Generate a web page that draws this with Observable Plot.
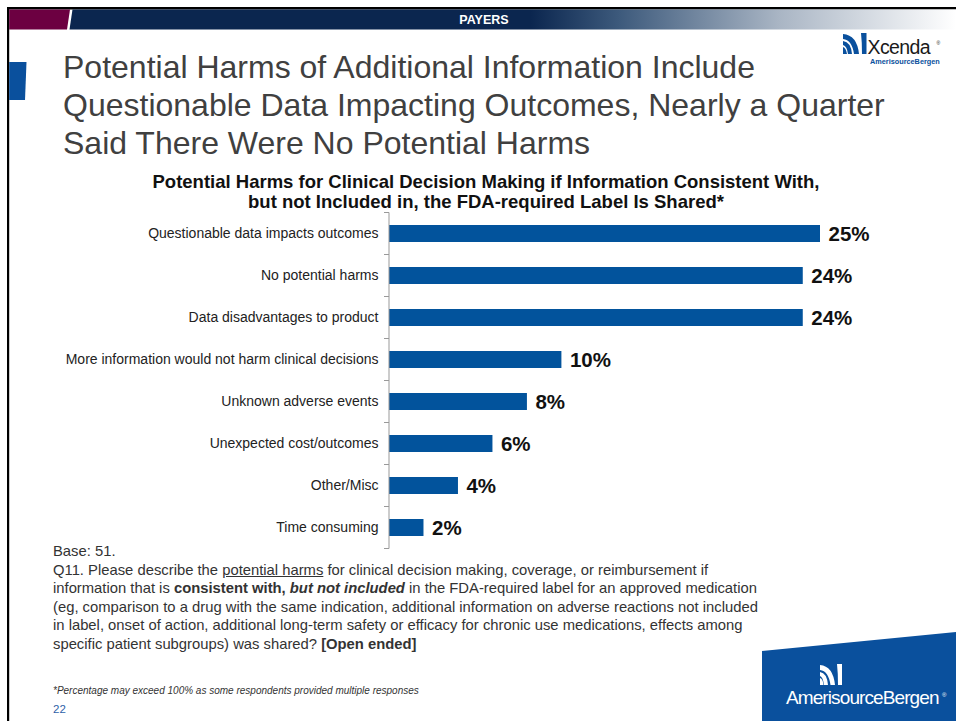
<!DOCTYPE html>
<html>
<head>
<meta charset="utf-8">
<script src="https://cdn.jsdelivr.net/npm/d3@7"></script>
<script src="https://cdn.jsdelivr.net/npm/@observablehq/plot@0.6"></script>
<style>
  html, body { margin: 0; padding: 0; background: #fff; }
  #page { position: relative; width: 956px; height: 721px; overflow: hidden; font-family: "Liberation Sans", Arial, sans-serif; }
  .abs { position: absolute; }
  #title { left: 63px; top: 48px; font-size: 32px; line-height: 38px; color: #404040; white-space: nowrap; }
  #ctitle { left: 100px; width: 772px; top: 172px; text-align: center; font-size: 18.5px; line-height: 20px; font-weight: bold; color: #111; white-space: nowrap; }
  #note { left: 53px; top: 542px; font-family: "Liberation Sans Narrow", "Arial Narrow", "Liberation Sans", sans-serif; font-size: 14.8px; line-height: 18.6px; color: #333; white-space: nowrap; }
  #foot { left: 53px; top: 685px; font-size: 10px; font-style: italic; color: #333; font-family: "Liberation Sans Narrow", "Arial Narrow", "Liberation Sans", sans-serif; }
  #pnum { left: 53px; top: 703px; font-size: 11.5px; color: #2f62a8; }
  #chart { left: 0; top: 199px; }
</style>
</head>
<body>
<div id="page">
  <svg class="abs" style="left:0;top:0" width="956" height="721">
    <defs>
      <linearGradient id="hg" x1="0" x2="1" y1="0" y2="0">
        <stop offset="0" stop-color="#0b264f"/>
        <stop offset="0.52" stop-color="#0b264f"/>
        <stop offset="0.62" stop-color="#3d5a7c"/>
        <stop offset="0.8" stop-color="#a9b5c4"/>
        <stop offset="1" stop-color="#ffffff"/>
      </linearGradient>
    </defs>
    <!-- border -->
    <rect x="7" y="7" width="949" height="2.5" fill="#000"/>
    <rect x="7" y="7" width="2.2" height="714" fill="#000"/>
    <!-- header bar -->
    <polygon points="9.2,9.5 70,9.5 67,29.5 9.2,29.5" fill="#6c0041"/>
    <polygon points="72.5,9.5 956,9.5 956,29.5 69.5,29.5" fill="url(#hg)"/>
    <text x="484" y="23.5" text-anchor="middle" font-size="12.5" font-weight="bold" fill="#fff">PAYERS</text>
    <!-- left accent -->
    <polygon points="9.2,62 26.5,62 25,100 9.2,100" fill="#0a509d"/>
    <!-- Xcenda logo -->
    <g fill="#0a509d">
      <path d="M843,34 q14,1 16,20 h-5 q-2,-14 -11,-15z"/>
      <path d="M843,41 q8,1 9,13 h-4 q-1,-8 -5,-9z"/>
      <path d="M843,47 q3,1 4,7 h-4z"/>
      <path d="M861,33 h5.5 v21 h-4.5 q0,-12 -1,-21z"/>
    </g>
    <text x="867.5" y="53.5" font-size="19.5" fill="#1a1a1a" letter-spacing="-0.6">Xcenda</text>
    <text x="936.5" y="45" font-size="5" fill="#1a1a1a">®</text>
    <text x="870" y="64" font-size="7.3" font-weight="bold" fill="#0a509d">AmerisourceBergen</text>
    <!-- bottom right logo -->
    <polygon points="762,651 956,632 956,721 762,721" fill="#0a509d"/>
    <g fill="#fff">
      <path d="M820,665 q13,1 15,20 h-4.5 q-2,-14 -10.5,-15z"/>
      <path d="M820,672 q7,1 8,13 h-4 q-1,-8 -4,-9z"/>
      <path d="M820,678 q3,1 3.5,7 h-3.5z"/>
      <path d="M837,664 h5 v21 h-4 q0,-12 -1,-21z"/>
    </g>
    <text x="786" y="704" font-size="19" fill="#fff" letter-spacing="-0.9">AmerisourceBergen</text>
    <text x="942" y="697" font-size="6" fill="#fff">®</text>
  </svg>

  <div id="title" class="abs">Potential Harms of Additional Information Include<br>Questionable Data Impacting Outcomes, Nearly a Quarter<br>Said There Were No Potential Harms</div>
  <div id="ctitle" class="abs">Potential Harms for Clinical Decision Making if Information Consistent With,<br>but not Included in, the FDA-required Label Is Shared*</div>
  <div id="chart" class="abs"></div>
  <div id="note" class="abs">Base: 51.<br>Q11. Please describe the <u>potential harms</u> for clinical decision making, coverage, or reimbursement if<br>information that is <b>consistent with, <i>but not included</i></b> in the FDA-required label for an approved medication<br>(eg, comparison to a drug with the same indication, additional information on adverse reactions not included<br>in label, onset of action, additional long-term safety or efficacy for chronic use medications, effects among<br>specific patient subgroups) was shared? <b>[Open ended]</b></div>
  <div id="foot" class="abs">*Percentage may exceed 100% as some respondents provided multiple responses</div>
  <div id="pnum" class="abs">22</div>
</div>
<script>
const categories = [
  "Questionable data impacts outcomes",
  "No potential harms",
  "Data disadvantages to product",
  "More information would not harm clinical decisions",
  "Unknown adverse events",
  "Unexpected cost/outcomes",
  "Other/Misc",
  "Time consuming"
];
const values = [25, 24, 24, 10, 8, 6, 4, 2];

const data = categories.map((c, i) => ({category: c, value: values[i]}));

// tick marks at band boundaries, drawn through the y scale
function bandTicks(index, scales, vals, dims) {
  const y = scales.y, x = scales.x;
  const g = d3.create("svg:g");
  const x0 = x(0);
  const bw = y.bandwidth ? y.bandwidth() : 17;
  const step = y.step ? y.step() : bw / 0.4;
  const half = (step - bw) / 2;
  const ys = categories.map(c => y(c) - half);
  ys.push(y(categories[categories.length - 1]) + bw + half);
  for (const yy of ys) {
    g.append("line").attr("x1", x0 - 5).attr("x2", x0).attr("y1", yy).attr("y2", yy)
      .attr("stroke", "#999").attr("stroke-width", 1);
  }
  g.append("line").attr("x1", x0).attr("x2", x0).attr("y1", ys[0]).attr("y2", ys[ys.length - 1])
    .attr("stroke", "#999").attr("stroke-width", 1);
  return g.node();
}

const plot = Plot.plot({
  width: 956,
  height: 360,
  marginTop: 12,
  marginBottom: 9,
  marginLeft: 389,
  marginRight: 136,
  style: {fontFamily: "'Liberation Sans', Arial, sans-serif", background: "transparent"},
  x: {domain: [0, 25], axis: null},
  y: {domain: categories, paddingInner: 0.6, paddingOuter: 0.3, label: null, tickSize: 0, tickPadding: 11},
  marks: [
    Plot.axisY({tickSize: 0, tickPadding: 11, fontSize: 14, color: "#222", label: null}),
    Plot.barX(data, {x: "value", y: "category", fill: "#02539c"}),
    bandTicks,
    Plot.text(data, {x: "value", y: "category", text: d => d.value + "%", dx: 8, textAnchor: "start",
      fontSize: 20.5, fontWeight: "bold", fill: "#111"})
  ]
});
document.getElementById("chart").appendChild(plot);
</script>
</body>
</html>
